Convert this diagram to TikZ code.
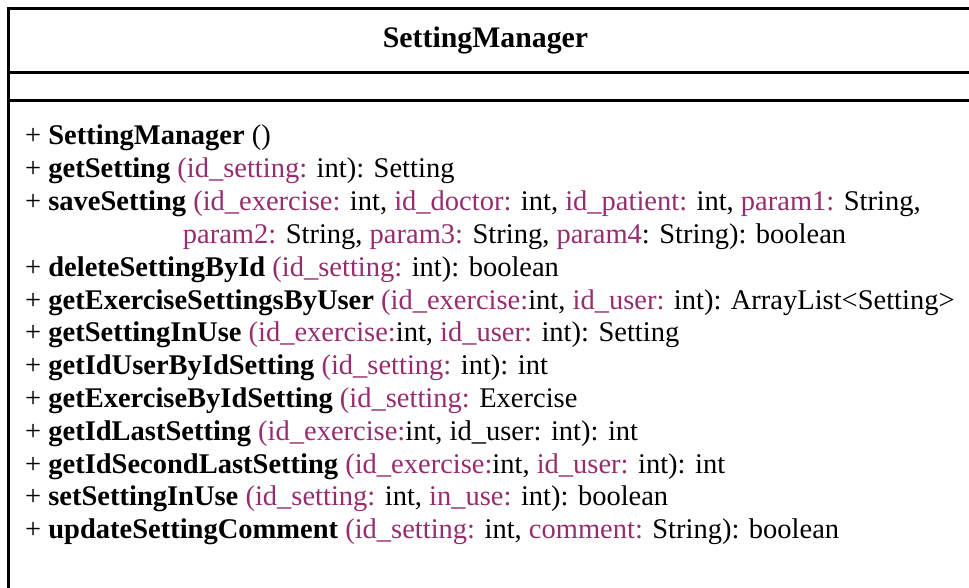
\documentclass[tikz,border=0pt]{standalone}
\usepackage{fontspec}
\setmainfont{Liberation Serif}
\usetikzlibrary{positioning}
\definecolor{paramcol}{RGB}{150,45,110}
\newcommand{\prm}[1]{\textcolor{paramcol}{#1}}

\begin{document}
\begin{tikzpicture}[x=1pt, y=1pt,
                    node distance=32.8pt, on grid,
                    boxline/.style={line width=2.8pt},
                    title/.style={inner sep=0pt, anchor=base,
                                  font=\fontsize{29.8}{34}\selectfont\bfseries},
                    method/.style={inner sep=0pt, anchor=base west,
                                   font=\fontsize{28.5}{32.8}\selectfont}]
\useasboundingbox (0,0) rectangle (969,-588);
\clip (0,0) rectangle (969,-588);

% class box
\draw[boxline] (990,-8.7) -- (8.7,-8.7) -- (8.7,-600);
\draw[boxline] (8.7,-72.3) -- (990,-72.3);
\draw[boxline] (8.7,-100.7) -- (990,-100.7);

% class name
\node[title] (name) at (485.5,-48) {SettingManager};

% operations
\node[method] (m1) at (25,-145) {+ \textbf{SettingManager} ()};
\node[method] (m2) [below=of m1.base west, anchor=base west]
  {+ \textbf{getSetting} \prm{(id\_setting:} int): Setting};
\node[method] (m3) [below=of m2.base west, anchor=base west]
  {+ \textbf{saveSetting} \prm{(id\_exercise:} int, \prm{id\_doctor:} int, \prm{id\_patient:} int, \prm{param1:} String,};
\node[method] (m3b) [below=of m3.base west, anchor=base west, xshift=157.7pt]
  {\prm{param2:} String, \prm{param3:} String, \prm{param4}: String): boolean};
\node[method] (m4) [below=65.6pt of m3.base west, anchor=base west]
  {+ \textbf{deleteSettingById} \prm{(id\_setting:} int): boolean};
\node[method] (m5) [below=of m4.base west, anchor=base west]
  {+ \textbf{getExerciseSettingsByUser} \prm{(id\_exercise:}int, \prm{id\_user:} int): ArrayList<Setting>};
\node[method] (m6) [below=of m5.base west, anchor=base west]
  {+ \textbf{getSettingInUse} \prm{(id\_exercise:}int, \prm{id\_user:} int): Setting};
\node[method] (m7) [below=of m6.base west, anchor=base west]
  {+ \textbf{getIdUserByIdSetting} \prm{(id\_setting:} int): int};
\node[method] (m8) [below=of m7.base west, anchor=base west]
  {+ \textbf{getExerciseByIdSetting} \prm{(id\_setting:} Exercise};
\node[method] (m9) [below=of m8.base west, anchor=base west]
  {+ \textbf{getIdLastSetting} \prm{(id\_exercise:}int, id\_user: int): int};
\node[method] (m10) [below=of m9.base west, anchor=base west]
  {+ \textbf{getIdSecondLastSetting} \prm{(id\_exercise:}int, \prm{id\_user:} int): int};
\node[method] (m11) [below=of m10.base west, anchor=base west]
  {+ \textbf{setSettingInUse} \prm{(id\_setting:} int, \prm{in\_use:} int): boolean};
\node[method] (m12) [below=of m11.base west, anchor=base west]
  {+ \textbf{updateSettingComment} \prm{(id\_setting:} int, \prm{comment:} String): boolean};

\end{tikzpicture}
\end{document}
